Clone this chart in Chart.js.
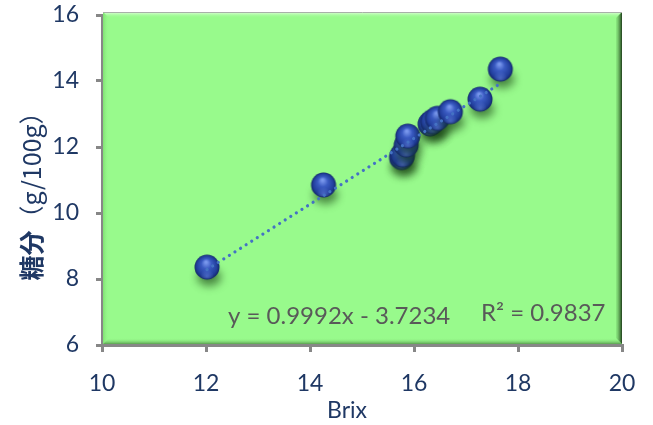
<!DOCTYPE html>
<html>
<head>
<meta charset="utf-8">
<script src="https://cdn.jsdelivr.net/npm/chart.js@4"></script>
<style>
  html, body { margin: 0; padding: 0; background: #ffffff; }
  #wrap { width: 653px; height: 425px; }
</style>
</head>
<body>
<div id="wrap"><canvas id="c" width="653" height="425"></canvas></div>
<script>
// Brix reading and measured sugar content of each sample
const brix  = [12.02, 14.26, 15.76, 15.78, 15.85, 15.88, 16.31, 16.36, 16.45, 16.70, 17.27, 17.66];
const sugar = [8.36, 10.85, 11.68, 11.76, 12.06, 12.33, 12.70, 12.77, 12.87, 13.07, 13.45, 14.36];

// Linear trendline coefficients and fit quality
const slope = 0.9992;
const intercept = -3.7234;
const rSquared = 0.9837;

// Axis ranges and tick step
const xRange = [10, 20];
const yRange = [6, 16];
const tickStep = 2;

const xTitle = 'Brix';
const yTitleMain = '糖分';
const yTitleUnit = '（g/100g）';

const navy = '#1f3864';
const axisGrey = '#878787';

// Glossy blue sphere with a soft shadow, used as the point marker
function makeBall() {
  const c = document.createElement('canvas');
  c.width = 60; c.height = 60;
  const g = c.getContext('2d');
  const cx = 30, cy = 30, r = 12.5;
  g.save();
  g.filter = 'blur(4px)';
  g.fillStyle = 'rgba(20,60,15,0.6)';
  g.beginPath();
  g.ellipse(cx + 2, cy + 10, 12, 9, 0, 0, Math.PI * 2);
  g.fill();
  g.restore();
  const body = g.createRadialGradient(cx - 1, cy - 5, 1, cx, cy, r);
  body.addColorStop(0, '#7896ec');
  body.addColorStop(0.35, '#3a5bc2');
  body.addColorStop(0.8, '#213e9b');
  body.addColorStop(1, '#132766');
  g.fillStyle = body;
  g.beginPath();
  g.arc(cx, cy, r, 0, Math.PI * 2);
  g.fill();
  // lower rim reflection
  const rim = g.createRadialGradient(cx, cy + 9, 0, cx, cy + 9, 7);
  rim.addColorStop(0, 'rgba(110,140,230,0.5)');
  rim.addColorStop(1, 'rgba(110,140,230,0)');
  g.fillStyle = rim;
  g.beginPath();
  g.arc(cx, cy, r - 1, 0, Math.PI * 2);
  g.fill();
  return c;
}

// Bevelled green plot area drawn behind the datasets
const plotPanel = {
  id: 'plotPanel',
  beforeDatasetsDraw(chart) {
    const { ctx, chartArea: a } = chart;
    const L = a.left + 1, R = a.right, T = a.top - 3, B = a.bottom - 1;
    const w = 6;
    ctx.save();
    ctx.fillStyle = '#98fa8c';
    ctx.fillRect(L, T, R - L, B - T);
    // top highlight
    let gr = ctx.createLinearGradient(0, T, 0, T + w);
    gr.addColorStop(0, '#e4ffe0');
    gr.addColorStop(1, 'rgba(152,250,140,0)');
    ctx.fillStyle = gr;
    ctx.beginPath();
    ctx.moveTo(L, T); ctx.lineTo(R, T); ctx.lineTo(R - w, T + w); ctx.lineTo(L + w, T + w); ctx.closePath();
    ctx.fill();
    // left light edge
    gr = ctx.createLinearGradient(L, 0, L + w, 0);
    gr.addColorStop(0, '#7fe072');
    gr.addColorStop(1, 'rgba(152,250,140,0)');
    ctx.fillStyle = gr;
    ctx.beginPath();
    ctx.moveTo(L, T); ctx.lineTo(L + w, T + w); ctx.lineTo(L + w, B - w); ctx.lineTo(L, B); ctx.closePath();
    ctx.fill();
    // bottom shade
    gr = ctx.createLinearGradient(0, B - w, 0, B);
    gr.addColorStop(0, 'rgba(152,250,140,0)');
    gr.addColorStop(1, '#5aa050');
    ctx.fillStyle = gr;
    ctx.beginPath();
    ctx.moveTo(L, B); ctx.lineTo(L + w, B - w); ctx.lineTo(R - w, B - w); ctx.lineTo(R, B); ctx.closePath();
    ctx.fill();
    // right dark edge
    gr = ctx.createLinearGradient(R - w, 0, R, 0);
    gr.addColorStop(0, 'rgba(120,210,110,0.4)');
    gr.addColorStop(1, '#1f3d1a');
    ctx.fillStyle = gr;
    ctx.beginPath();
    ctx.moveTo(R, T); ctx.lineTo(R, B); ctx.lineTo(R - w, B - w); ctx.lineTo(R - w, T + w); ctx.closePath();
    ctx.fill();
    // thin outline on top
    ctx.strokeStyle = '#a8b0a8';
    ctx.lineWidth = 1;
    ctx.beginPath();
    ctx.moveTo(L, T + 0.5); ctx.lineTo(R, T + 0.5);
    ctx.stroke();
    ctx.restore();
  }
};

// Trendline equation, R² and the two axis titles
const annotations = {
  id: 'annotations',
  afterDraw(chart) {
    const { ctx, chartArea: a } = chart;
    ctx.save();
    ctx.fillStyle = '#595959';
    ctx.font = '24px Lato';
    ctx.textBaseline = 'middle';
    ctx.textAlign = 'left';
    const sign = intercept < 0 ? ' - ' : ' + ';
    const eq = 'y = ' + slope.toFixed(4) + 'x' + sign + Math.abs(intercept).toFixed(4);
    ctx.fillText(eq, a.left + 126, a.bottom - 29);
    ctx.fillText('R² = ' + rSquared.toFixed(4), a.left + 379, a.bottom - 32);

    ctx.fillStyle = navy;
    ctx.textAlign = 'center';
    ctx.font = '23px Lato';
    ctx.fillText(xTitle, a.left + 245, 411);

    // rotated y title: bold name followed by the unit in regular weight
    ctx.translate(31, 190);
    ctx.rotate(-Math.PI / 2);
    ctx.textAlign = 'left';
    const mainFont = 'bold 25px "Noto Sans CJK JP"';
    const unitFont = '25px "Noto Sans CJK JP"';
    ctx.font = mainFont;
    const w1 = ctx.measureText(yTitleMain).width;
    ctx.font = unitFont;
    const w2 = ctx.measureText(yTitleUnit).width;
    const start = -(w1 + w2) / 2;
    ctx.font = mainFont;
    ctx.fillText(yTitleMain, start, 0);
    ctx.font = unitFont;
    ctx.fillText(yTitleUnit, start + w1, 0);
    ctx.restore();
  }
};

const xMin = Math.min(...brix), xMax = Math.max(...brix);
const trend = [
  { x: xMin, y: slope * xMin + intercept },
  { x: xMax, y: slope * xMax + intercept }
];

const ball = makeBall();

new Chart(document.getElementById('c'), {
  type: 'scatter',
  data: {
    datasets: [
      {
        label: 'trend',
        type: 'line',
        data: trend,
        borderColor: '#4472c4',
        borderWidth: 3.2,
        borderDash: [0.01, 6.6],
        borderCapStyle: 'round',
        pointRadius: 0,
        fill: false,
        order: 0
      },
      {
        label: 'samples',
        data: brix.map((x, i) => ({ x, y: sugar[i] })),
        pointStyle: ball,
        pointRadius: 13,
        order: 1
      }
    ]
  },
  plugins: [plotPanel, annotations],
  options: {
    responsive: false,
    animation: false,
    layout: { padding: { top: 15, right: 31, left: 0, bottom: 0 } },
    plugins: { legend: { display: false }, tooltip: { enabled: false } },
    scales: {
      x: {
        type: 'linear',
        min: xRange[0], max: xRange[1],
        ticks: { stepSize: tickStep, color: navy, font: { family: 'Lato', size: 23 }, padding: 18, maxRotation: 0 },
        grid: { drawOnChartArea: false, drawTicks: true, tickLength: 7, color: axisGrey, lineWidth: 3 },
        border: { color: axisGrey, width: 3 },
        afterFit(s) { s.height = 80; s.paddingLeft = 0; s.paddingRight = 0; }
      },
      y: {
        min: yRange[0], max: yRange[1],
        ticks: { stepSize: tickStep, color: navy, font: { family: 'Lato', size: 23 }, padding: 17 },
        grid: { drawOnChartArea: false, drawTicks: true, tickLength: 6, color: axisGrey, lineWidth: 3 },
        border: { color: axisGrey, width: 3 },
        afterFit(s) { s.width = 102; s.paddingTop = 0; s.paddingBottom = 0; }
      }
    }
  }
});
</script>
</body>
</html>
